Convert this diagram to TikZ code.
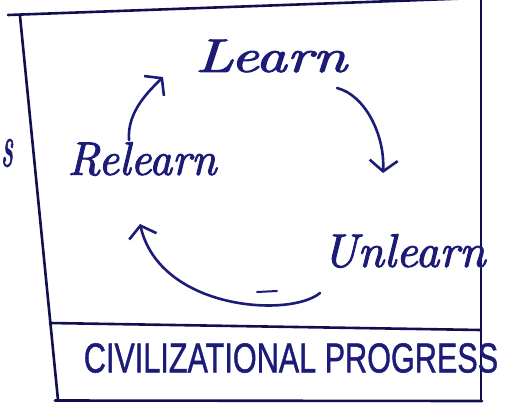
\documentclass[tikz,border=0pt]{standalone}
\usepackage{fontspec}
\newfontfamily\capsfont{Liberation Sans}[FakeBold=1.2]
\newfontfamily\handfont{lmroman10-italic.otf}[FakeBold=2]
\usetikzlibrary{arrows.meta,calc}
\definecolor{ink}{RGB}{28,28,120}
\definecolor{frame}{RGB}{16,16,80}
\begin{document}
\begin{tikzpicture}[x=1pt,y=-1pt,
  word/.style={inner sep=0pt, text=ink, font=\handfont\fontsize{47}{47}\selectfont},
  framestroke/.style={draw=frame, line width=2.6pt, line cap=round},
  flow/.style={draw=ink, line width=2.6pt, line cap=round, line join=round,
    -{Straight Barb[length=11pt,width=28pt]}},
]
\useasboundingbox (0,0) rectangle (505,402);
\clip (0,0) rectangle (505,402);
\fill[white] (0,0) rectangle (505,402);
% frame
\draw[framestroke] (8,15) -- (505,-3);
\draw[framestroke] (20,16) -- (58,400);
\draw[framestroke] (481,-2) -- (481,401);
\draw[framestroke] (50,323) -- (481,330);
\draw[framestroke] (55,400.5) -- (482,401);
% words
\node[word] (learn) at (271,56) {\scalebox{1.3}[1]{Learn}};
\node[word] (relearn) at (142,159) {\scalebox{0.96}[1]{Relearn}};
\node[word] (unlearn) at (404,251) {Unlearn};
\node[inner sep=0pt, text=ink, font=\capsfont\fontsize{30.6}{31}\selectfont] (progress) at (291,358) {\scalebox{1}[1.37]{CIVILIZATIONAL PROGRESS}};
\node[word, anchor=east] (stray) at (13,153) {\scalebox{0.6}[1.3]{s}};
% cycle arrows
\draw[flow] ($(relearn)+(-13,-19)$) .. controls ($(relearn)+(-15,-47)$) and ($(learn)+(-123,36)$) .. ($(learn)+(-108,21)$);
\draw[flow] ($(learn)+(66,32)$) .. controls ($(learn)+(94,39)$) and ($(unlearn)+(-19,-116)$) .. ($(unlearn)+(-21,-78)$);
\draw[flow] ($(unlearn)+(-84,42)$) .. controls ($(unlearn)+(-114,67)$) and ($(relearn)+(18,151)$) .. ($(relearn)+(-2,65)$);
% stray pen mark
\draw[draw=ink, line width=2pt, line cap=round] ($(unlearn)+(-147,41)$) -- ($(unlearn)+(-127,40)$);
\end{tikzpicture}
\end{document}
